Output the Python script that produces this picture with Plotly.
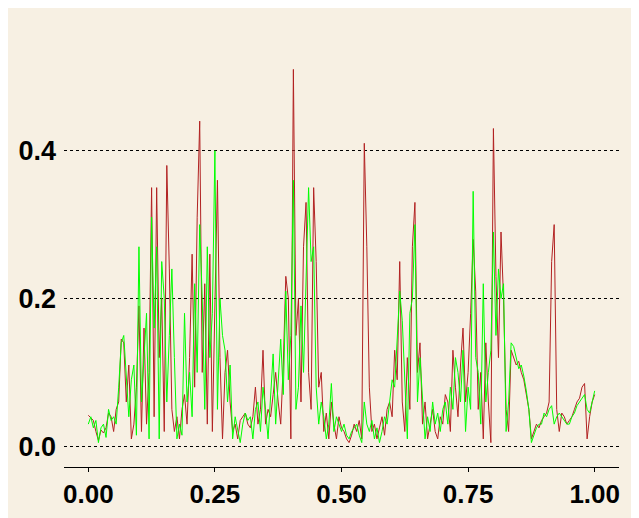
import numpy as np
import plotly.graph_objects as go

# sample values, one per 0.005 step on [0, 1]
red_vals = [
    0.042, 0.038, 0.035, 0.020, 0.008, 0.022, 0.018, 0.025, 0.045, 0.040,
    0.020, 0.050, 0.060, 0.145, 0.140, 0.060, 0.110, 0.010, 0.030, 0.080,
    0.190, 0.020, 0.160, 0.030, 0.100, 0.350, 0.040, 0.350, 0.120, 0.200,
    0.020, 0.380, 0.240, 0.050, 0.020, 0.040, 0.010, 0.050, 0.070, 0.030,
    0.120, 0.260, 0.080, 0.310, 0.440, 0.100, 0.220, 0.030, 0.260, 0.020,
    0.200, 0.360, 0.120, 0.010, 0.100, 0.130, 0.060, 0.020, 0.030, 0.010,
    0.035, 0.040, 0.045, 0.030, 0.025, 0.040, 0.080, 0.030, 0.050, 0.130,
    0.030, 0.050, 0.040, 0.070, 0.100, 0.060, 0.030, 0.110, 0.230, 0.200,
    0.010, 0.510, 0.150, 0.200, 0.060, 0.270, 0.330, 0.100, 0.050, 0.350,
    0.250, 0.080, 0.100, 0.020, 0.045, 0.010, 0.060, 0.030, 0.010, 0.040,
    0.025, 0.020, 0.010, 0.005, 0.015, 0.030, 0.020, 0.035, 0.010, 0.410,
    0.270, 0.080, 0.020, 0.030, 0.010, 0.025, 0.040, 0.015, 0.050, 0.060,
    0.040, 0.130, 0.090, 0.250, 0.060, 0.020, 0.120, 0.050, 0.270, 0.330,
    0.100, 0.140, 0.030, 0.060, 0.010, 0.030, 0.050, 0.020, 0.010, 0.040,
    0.030, 0.070, 0.060, 0.020, 0.130, 0.080, 0.040, 0.110, 0.160, 0.060,
    0.100, 0.180, 0.280, 0.210, 0.050, 0.100, 0.010, 0.140, 0.060, 0.005,
    0.430, 0.230, 0.120, 0.290, 0.200, 0.050, 0.020, 0.130, 0.120, 0.110,
    0.115, 0.100, 0.090, 0.070, 0.050, 0.010, 0.020, 0.030, 0.025, 0.035,
    0.040, 0.045, 0.060, 0.250, 0.300, 0.050, 0.020, 0.045, 0.040, 0.030,
    0.035, 0.040, 0.050, 0.060, 0.065, 0.080, 0.085, 0.010, 0.040, 0.060,
    0.070,
]

green_vals = [
    0.030, 0.040, 0.025, 0.035, 0.005, 0.025, 0.030, 0.012, 0.050, 0.035,
    0.040, 0.030, 0.080, 0.140, 0.150, 0.100, 0.040, 0.090, 0.110, 0.015,
    0.270, 0.060, 0.120, 0.180, 0.010, 0.310, 0.160, 0.270, 0.010, 0.250,
    0.200, 0.060, 0.150, 0.240, 0.120, 0.010, 0.030, 0.015, 0.180, 0.060,
    0.100, 0.040, 0.220, 0.100, 0.300, 0.200, 0.050, 0.270, 0.120, 0.180,
    0.400, 0.050, 0.200, 0.150, 0.130, 0.060, 0.110, 0.010, 0.040, 0.020,
    0.005, 0.030, 0.045, 0.035, 0.040, 0.010, 0.050, 0.060, 0.020, 0.080,
    0.050, 0.010, 0.070, 0.125, 0.030, 0.090, 0.145, 0.070, 0.210, 0.090,
    0.150, 0.360, 0.050, 0.080, 0.190, 0.100, 0.230, 0.350, 0.250, 0.270,
    0.080, 0.030, 0.060, 0.040, 0.010, 0.030, 0.085, 0.020, 0.040, 0.030,
    0.020, 0.030, 0.015, 0.010, 0.020, 0.025, 0.030, 0.015, 0.005, 0.060,
    0.030, 0.020, 0.035, 0.010, 0.025, 0.005, 0.020, 0.040, 0.030, 0.060,
    0.090, 0.080, 0.140, 0.210, 0.170, 0.100, 0.010, 0.180, 0.200, 0.300,
    0.060, 0.120, 0.070, 0.010, 0.040, 0.020, 0.060, 0.030, 0.045, 0.020,
    0.050, 0.060, 0.030, 0.080, 0.050, 0.120, 0.100, 0.060, 0.130, 0.020,
    0.080, 0.050, 0.345, 0.120, 0.100, 0.030, 0.220, 0.060, 0.100, 0.130,
    0.290, 0.150, 0.240, 0.200, 0.220, 0.020, 0.060, 0.140, 0.135, 0.120,
    0.105, 0.110, 0.095, 0.075, 0.050, 0.005, 0.015, 0.025, 0.030, 0.030,
    0.045, 0.040, 0.050, 0.055, 0.030, 0.040, 0.045, 0.040, 0.035, 0.030,
    0.030, 0.040, 0.045, 0.055, 0.060, 0.065, 0.070, 0.050, 0.045, 0.060,
    0.075,
]

x_vals = np.linspace(0, 1, len(red_vals))

x_ticks = [0.0, 0.25, 0.5, 0.75, 1.0]
x_tick_labels = ["0.00", "0.25", "0.50", "0.75", "1.00"]
y_ticks = [0.0, 0.2, 0.4]
y_tick_labels = ["0.0", "0.2", "0.4"]

bg = "#F7F0E3"
font_family = "Liberation Sans, Arial"

fig = go.Figure()
fig.add_trace(go.Scatter(x=x_vals, y=red_vals, mode="lines",
                         line={"color": "#B22222", "width": 1}, showlegend=False))
fig.add_trace(go.Scatter(x=x_vals, y=green_vals, mode="lines",
                         line={"color": "#00FF00", "width": 1}, showlegend=False))

fig.update_xaxes(
    range=[-0.048, 1.048],
    tickvals=x_ticks,
    ticktext=x_tick_labels,
    tickfont={"family": font_family, "size": 26, "color": "#000000", "weight": "bold"},
    ticks="outside",
    ticklen=4,
    tickcolor="#000000",
    showline=True,
    linecolor="#000000",
    linewidth=1,
    showgrid=False,
    zeroline=False,
)
fig.update_yaxes(
    range=[-0.028, 0.5376],
    tickvals=y_ticks,
    ticktext=y_tick_labels,
    tickfont={"family": font_family, "size": 27, "color": "#000000", "weight": "bold"},
    ticks="",
    ticklabelstandoff=7,
    showline=False,
    showgrid=True,
    gridcolor="#000000",
    gridwidth=1,
    griddash="dot",
    zeroline=False,
)
# page body adds an 8px offset, so the figure is shrunk to fit the window
fig.update_layout(
    width=631,
    height=510,
    margin={"l": 56, "r": 20, "t": 41, "b": 51, "autoexpand": False},
    paper_bgcolor=bg,
    plot_bgcolor=bg,
)
fig.write_html("out.html")
